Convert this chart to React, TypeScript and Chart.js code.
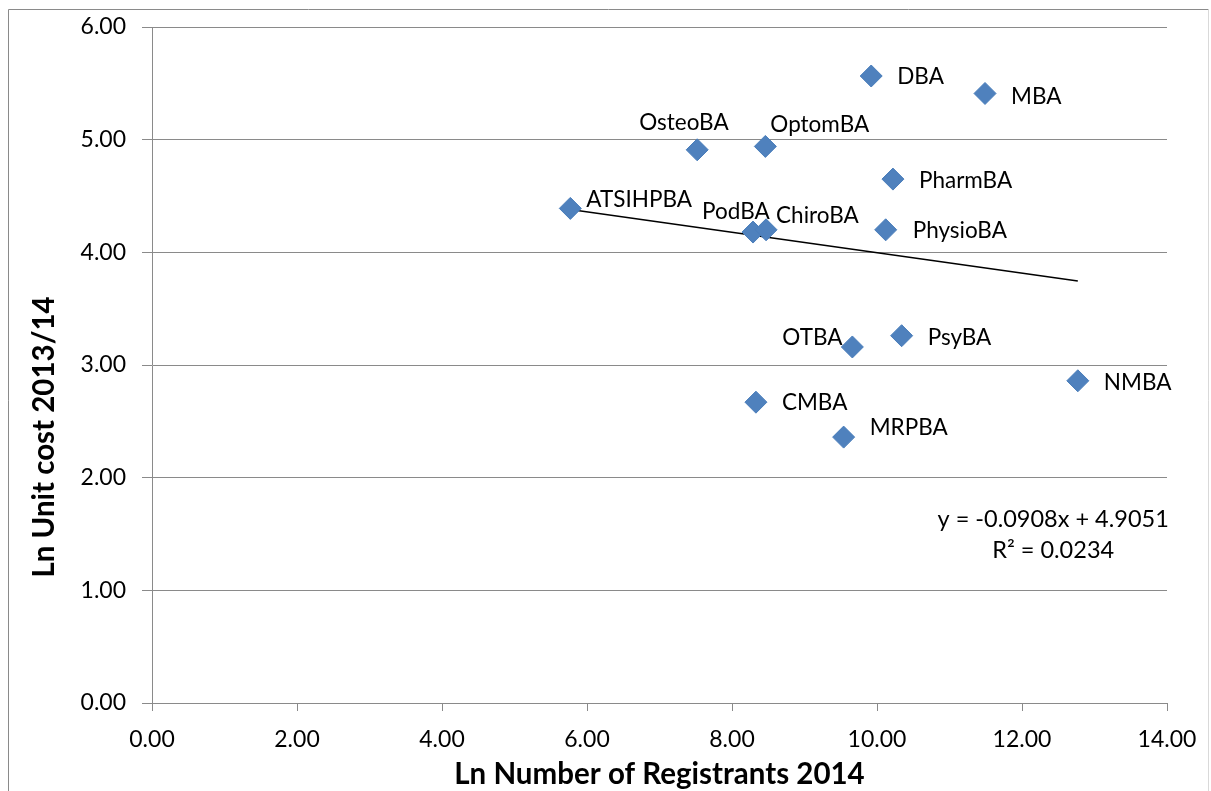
import React, { useEffect, useRef } from "react";
import { Chart, registerables } from "chart.js";

Chart.register(...registerables);

const boards = ["DBA", "MBA", "OsteoBA", "OptomBA", "PharmBA", "ATSIHPBA", "PodBA", "ChiroBA", "PhysioBA", "OTBA", "PsyBA", "NMBA", "CMBA", "MRPBA"];
const lnRegistrants = [9.92, 11.49, 7.52, 8.46, 10.22, 5.77, 8.29, 8.47, 10.12, 9.66, 10.34, 12.77, 8.33, 9.54];
const lnUnitCost = [5.565, 5.41, 4.91, 4.94, 4.65, 4.39, 4.18, 4.2, 4.2, 3.16, 3.26, 2.86, 2.67, 2.36];
const trendSlope = -0.0908;
const trendIntercept = 4.9051;
const equationLines = ["y = -0.0908x + 4.9051", "R² = 0.0234"];
const xTitle = "Ln Number of Registrants 2014";
const yTitle = "Ln Unit cost 2013/14";

// label placement (pixel offsets from the marker to the label's left/middle)
const labelOffsets: [number, number][] = [
  [26, 1], [26, 3], [-58, -27], [5, -22], [26, 2], [16, -9], [-51, -20],
  [10, -14], [27, 1], [-70, -9], [26, 2], [26, 2], [26, 1], [26, -9],
];

const FONT = "Lato, 'Open Sans', sans-serif";
const GRID = "#8a8a8a";

export default function App() {
  const ref = useRef<HTMLCanvasElement | null>(null);
  useEffect(() => {
    if (!ref.current) return;
    const xs = lnRegistrants;
    const xMin = Math.min(...xs);
    const xMax = Math.max(...xs);
    const trend = [
      { x: xMin, y: trendSlope * xMin + trendIntercept },
      { x: xMax, y: trendSlope * xMax + trendIntercept },
    ];
    const points = boards.map((_, i) => ({ x: lnRegistrants[i], y: lnUnitCost[i] }));

    const decor = {
      id: "decor",
      beforeDraw(chart: any) {
        const ctx = chart.ctx;
        ctx.save();
        ctx.fillStyle = "#ffffff";
        ctx.fillRect(0, 0, chart.width, chart.height);
        ctx.lineWidth = 1;
        ctx.strokeStyle = "#8a8a8a";
        ctx.beginPath();
        ctx.moveTo(8.5, chart.height);
        ctx.lineTo(8.5, 9.5);
        ctx.lineTo(1208.5, 9.5);
        ctx.stroke();
        ctx.strokeStyle = "#d9d9d9";
        ctx.beginPath();
        ctx.moveTo(1208.5, 9.5);
        ctx.lineTo(1208.5, chart.height);
        ctx.stroke();
        ctx.restore();
      },
      afterDraw(chart: any) {
        const ctx = chart.ctx;
        const area = chart.chartArea;
        const xs = chart.scales.x;
        ctx.save();
        ctx.fillStyle = "#000";
        // point labels
        ctx.font = `22.5px ${FONT}`;
        ctx.textAlign = "left";
        ctx.textBaseline = "middle";
        const meta = chart.getDatasetMeta(0);
        meta.data.forEach((el: any, i: number) => {
          const [dx, dy] = labelOffsets[i];
          ctx.fillText(boards[i], el.x + dx, el.y + dy);
        });
        // equation
        ctx.textAlign = "center";
        ctx.font = `23.5px ${FONT}`;
        const ex = xs.getPixelForValue(12.43);
        const ey = chart.scales.y.getPixelForValue(1.63);
        ctx.fillText(equationLines[0], ex, ey);
        ctx.fillText(equationLines[1], ex, ey + 31);
        // axis titles
        ctx.font = `bold 29.5px ${FONT}`;
        ctx.fillText(xTitle, (area.left + area.right) / 2, 774);
        ctx.translate(44, 437);
        ctx.rotate(-Math.PI / 2);
        ctx.fillText(yTitle, 0, 0);
        ctx.restore();
      },
    };

    const chart = new Chart(ref.current, {
      type: "scatter",
      data: {
        datasets: [
          {
            label: "Unit cost",
            data: points,
            pointStyle: "rectRot",
            pointRadius: 11,
            pointBackgroundColor: "#4F81BD",
            pointBorderColor: "#4A7EBB",
            pointBorderWidth: 1,
            order: 1,
          },
          {
            label: "Trend",
            type: "line",
            data: trend,
            borderColor: "#000000",
            borderWidth: 1.5,
            pointRadius: 0,
            fill: false,
            order: 2,
          } as any,
        ],
      },
      options: {
        animation: false,
        responsive: false,
        layout: { padding: { top: 27, right: 44, left: 0, bottom: 0 } },
        plugins: { legend: { display: false }, tooltip: { enabled: false } },
        scales: {
          x: {
            type: "linear",
            min: 0,
            max: 14,
            afterFit: (s: any) => { s.height = 88; s.paddingRight = 0; s.paddingLeft = 0; },
            ticks: {
              stepSize: 2,
              callback: (v: any) => Number(v).toFixed(2),
              font: { family: FONT, size: 23 },
              color: "#000",
              padding: 15,
            },
            grid: { drawOnChartArea: false, drawTicks: true, tickLength: 8, color: GRID, lineWidth: 1 },
            border: { color: GRID, width: 1 },
          },
          y: {
            type: "linear",
            min: 0,
            max: 6,
            afterFit: (s: any) => { s.width = 152; s.paddingTop = 0; s.paddingBottom = 0; },
            ticks: {
              stepSize: 1,
              callback: (v: any) => Number(v).toFixed(2),
              font: { family: FONT, size: 23 },
              color: "#000",
              padding: 16,
            },
            grid: { drawTicks: true, tickLength: 10, color: GRID, lineWidth: 1 },
            border: { color: GRID, width: 1 },
          },
        },
      },
      plugins: [decor],
    });
    return () => chart.destroy();
  }, []);

  return (
    <div style={{ position: "absolute", left: 0, top: 0, width: 1211, height: 791 }}>
      <canvas ref={ref} width={1211} height={791} style={{ display: "block" }} />
    </div>
  );
}
